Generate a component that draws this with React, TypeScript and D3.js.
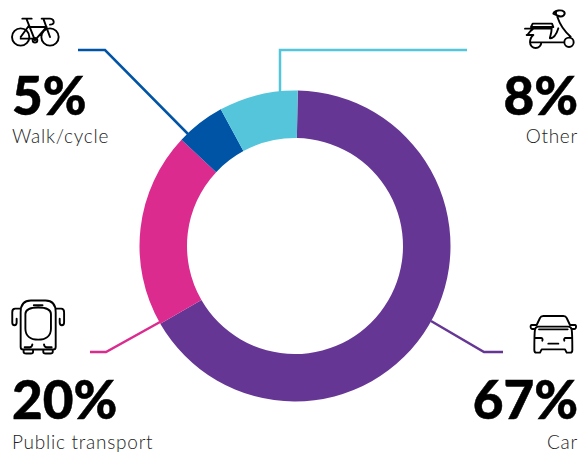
import React from 'react';
import * as d3 from 'd3';

const categories = ['Car', 'Public transport', 'Walk/cycle', 'Other'];
const shares = [67, 20, 5, 8];
// the drawn slices are not quite the rounded labels
const sliceValues = [66.4, 20.3, 5.1, 8.2];
const colours = ['#663695', '#db2b8f', '#0054a6', '#54c5db'];

const width = 580;
const height = 453;
const cx = 295;
const cy = 246;
const outer = 155.5;
const inner = 108;
const startAngle = Math.PI / 180;

// leader lines, one for each category
const leaders: [number, number][][] = [
  [[431, 321], [484, 352], [503, 352]],
  [[160, 322], [106, 352], [90, 352]],
  [[188, 134], [105, 50], [78, 50]],
  [[280, 92], [280, 50], [467, 50]],
];

const labels = [
  { x: 578, y: 419, sub: 449, anchor: 'end' },
  { x: 12, y: 419, sub: 449, anchor: 'start' },
  { x: 12, y: 115, sub: 143, anchor: 'start' },
  { x: 578, y: 115, sub: 143, anchor: 'end' },
];

// icons are traced at 3x, hence the scale
const icons = [
  {
    at: [525, 310],
    size: 1 / 3,
    d: 'M35 45L45 24C47 19 50 18 55 18H115C120 18 123 19 125 24L135 45M35 45H20C15 45 16 57 22 57H30M135 45H150C155 45 154 57 148 57H140M30 58C28 70 28 100 28 120C28 126 30 128 34 128H45L50 118H120L125 128H136C140 128 142 126 142 120C142 100 142 70 140 58C138 52 135 50 130 50H40C35 50 32 52 30 58ZM42 58H128M30 84H48C52 84 54 88 52 92M140 84H122C118 84 116 88 118 92M70 101H100',
  },
  {
    at: [3.5, 294],
    size: 0.365,
    d: 'M47 50C47 30 55 18 75 18H115C135 18 143 30 143 50V145C143 150 140 152 136 152H54C50 152 47 150 47 145ZM60 55C60 45 70 37 95 37C120 37 130 45 130 55V95C130 115 115 125 95 125C75 125 60 115 60 95ZM83 31H107M47 40H32C26 40 24 44 24 50V78C24 88 36 88 36 78V68M143 40H158C164 40 166 44 166 50V78C166 88 154 88 154 78V68M58 146H72C76 146 79 142 79 138M132 146H118C114 146 111 142 111 138M55 152V158C55 162 58 163 62 163H75C79 163 81 161 81 158V152M109 152V158C109 161 111 163 115 163H128C132 163 135 162 135 158V152',
  },
  {
    at: [5, 12],
    size: 1 / 3,
    d: 'M73 75A26 26 0 1 1 21 75A26 26 0 1 1 73 75ZM161 75A26 26 0 1 1 109 75A26 26 0 1 1 161 75ZM97 85A7 7 0 1 1 83 85A7 7 0 1 1 97 85ZM52 20H80M65 22L90 85M47 80H83M47 75L71 42M72 45H125M125 45L92 82M115 20L135 75M110 20H135C143 20 147 26 146 32C145 37 140 38 135 38',
  },
  {
    at: [520, 5],
    size: 1 / 3,
    d: 'M161 112A14 14 0 1 1 133 112A14 14 0 1 1 161 112ZM30 112A17 17 0 0 0 64 112H30ZM64 112H133M33 66L38 56H96L100 66H33ZM15 71H95M20 90H40C34 95 30 102 30 112M40 71C32 76 28 82 22 90M95 70C95 85 88 100 90 100C105 100 112 80 115 70M112 35C120 60 135 80 152 95M100 26C104 15 125 14 132 20C138 28 128 38 116 33C108 30 104 28 100 26ZM108 28V18',
  },
];

export default function App() {
  const pie = d3
    .pie<number>()
    .sort(null)
    .startAngle(startAngle)
    .endAngle(startAngle + 2 * Math.PI)
    .value((d) => d);
  const arc = d3.arc<d3.PieArcDatum<number>>().innerRadius(inner).outerRadius(outer);
  const line = d3.line();
  const slices = pie(sliceValues);

  return (
    <svg
      width={width}
      height={height}
      viewBox={`0 0 ${width} ${height}`}
      style={{ position: 'absolute', left: 0, top: 0, background: '#fff' }}
    >
      {leaders.map((pts, i) => (
        <path key={categories[i]} d={line(pts) ?? ''} fill="none" stroke={colours[i]} strokeWidth={2.5} />
      ))}
      <g transform={`translate(${cx},${cy})`}>
        {slices.map((s, i) => (
          <path key={categories[i]} d={arc(s) ?? ''} fill={colours[i]} />
        ))}
      </g>
      {categories.map((c, i) => (
        <g key={c} textAnchor={labels[i].anchor}>
          <text x={labels[i].x} y={labels[i].y} fontFamily="Lato" fontWeight={900} fontSize={53} stroke="#000" strokeWidth={0.5} fill="#000">
            {shares[i]}%
          </text>
          <text x={labels[i].x} y={labels[i].sub} fontFamily="Lato" fontWeight={300} fontSize={19} letterSpacing={0.75} fill="#222">
            {c}
          </text>
        </g>
      ))}
      {icons.map((ic, i) => (
        <g key={categories[i]} transform={`translate(${ic.at[0]},${ic.at[1]}) scale(${ic.size})`}>
          <path d={ic.d} fill="none" stroke="#000" strokeWidth={1.9 / ic.size} strokeLinejoin="round" strokeLinecap="round" />
        </g>
      ))}
    </svg>
  );
}
